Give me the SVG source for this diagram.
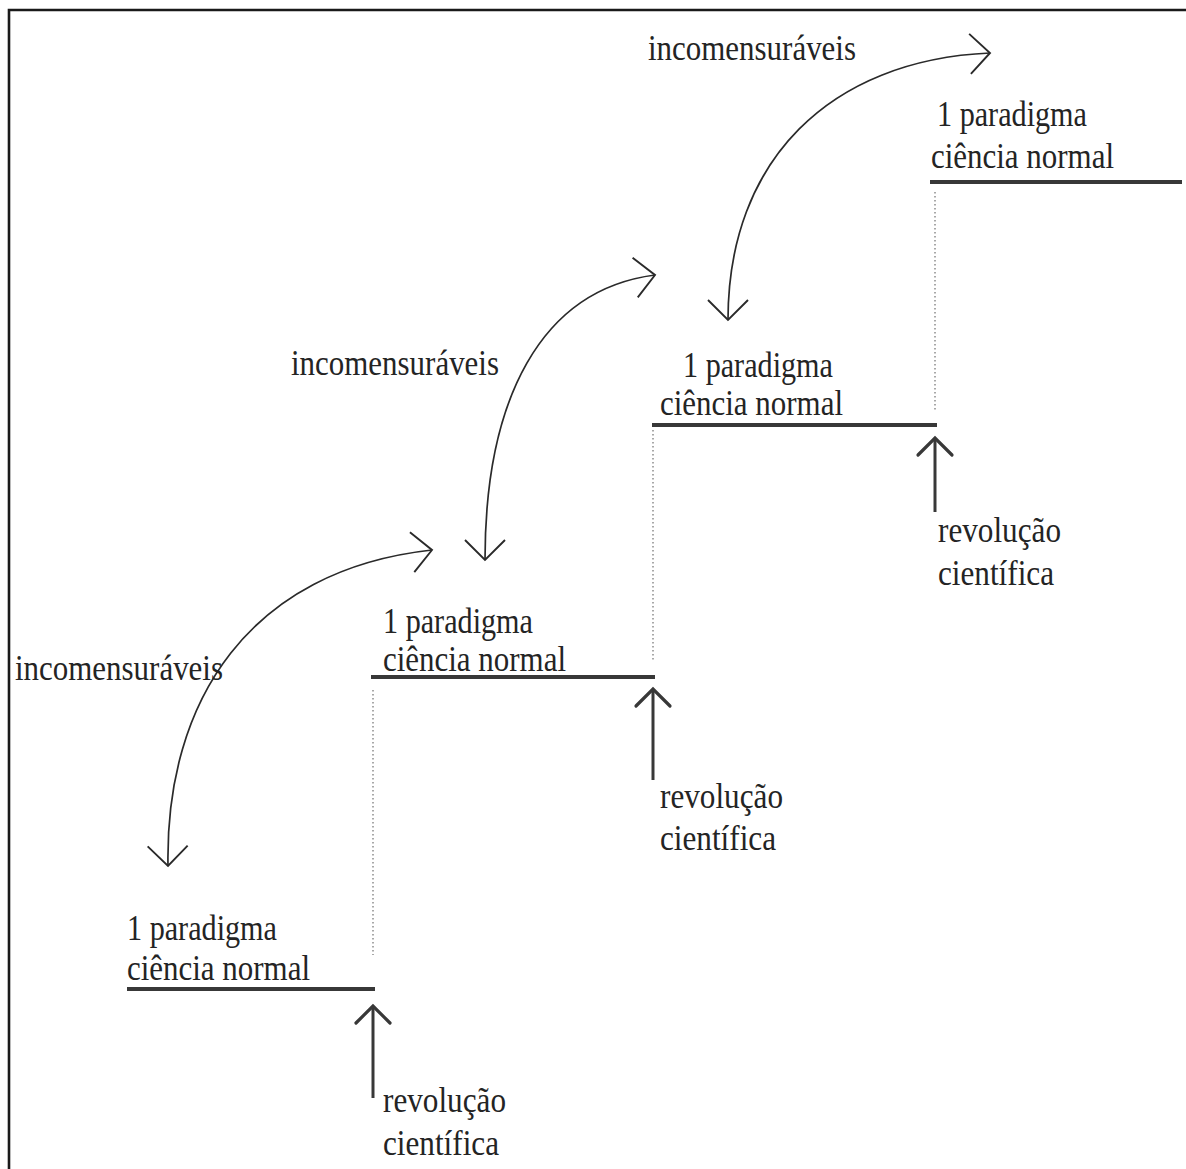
<svg xmlns="http://www.w3.org/2000/svg" width="1186" height="1169" viewBox="0 0 1186 1169">
  <style>
    .t { font-family: "Liberation Serif", "Times New Roman", serif; font-size: 36px; fill: #242424; }
    .step { stroke: #383838; stroke-width: 4; fill: none; }
    .dot { stroke: #7a7a7a; stroke-width: 1.3; stroke-dasharray: 1.5 2.5; fill: none; }
    .rev { stroke: #383838; stroke-width: 3; fill: none; }
    .curve { stroke: #2a2a2a; stroke-width: 1.7; fill: none; }
  </style>
  <defs>
    <marker id="chev" viewBox="-24 -24 28 48" markerWidth="28" markerHeight="48" refX="0" refY="0" orient="auto-start-reverse" markerUnits="userSpaceOnUse">
      <path d="M-20,-20 L0,0 L-20,20" fill="none" stroke="#2a2a2a" stroke-width="1.9"/>
    </marker>
    <marker id="up" viewBox="-22 -20 26 40" markerWidth="26" markerHeight="40" refX="0" refY="0" orient="auto" markerUnits="userSpaceOnUse">
      <path d="M-17,-17 L0,0 L-17,17" fill="none" stroke="#383838" stroke-width="3.2" stroke-linecap="round"/>
    </marker>
  </defs>
  <rect x="0" y="0" width="1186" height="1169" fill="#ffffff"/>
  <path d="M9,1169 L9,10 L1186,10" fill="none" stroke="#1a1a1a" stroke-width="2.6"/>

  <g id="connectors">
    <path class="dot" d="M935,192 L935,410"/>
    <path class="dot" d="M653,430 L653,660"/>
    <path class="dot" d="M373,690 L373,955"/>
    <path class="curve" marker-start="url(#chev)" marker-end="url(#chev)" d="M168,866 C165,700 250,570 432,550"/>
    <path class="curve" marker-start="url(#chev)" marker-end="url(#chev)" d="M485,560 C485,400 540,290 655,275"/>
    <path class="curve" marker-start="url(#chev)" marker-end="url(#chev)" d="M728,320 C728,160 830,60 990,53"/>
    <path class="rev" marker-end="url(#up)" d="M935,512 L935,438"/>
    <path class="rev" marker-end="url(#up)" d="M653,780 L653,689"/>
    <path class="rev" marker-end="url(#up)" d="M373,1098 L373,1006"/>
  </g>

  <g id="paradigma4">
    <path class="step" d="M930,182 L1182,182"/>
    <text class="t" x="937" y="126" textLength="150" lengthAdjust="spacingAndGlyphs">1 paradigma</text>
    <text class="t" x="931" y="168" textLength="183" lengthAdjust="spacingAndGlyphs">ciência normal</text>
  </g>
  <g id="paradigma3">
    <path class="step" d="M652,425 L937,425"/>
    <text class="t" x="683" y="377" textLength="150" lengthAdjust="spacingAndGlyphs">1 paradigma</text>
    <text class="t" x="660" y="415" textLength="183" lengthAdjust="spacingAndGlyphs">ciência normal</text>
  </g>
  <g id="paradigma2">
    <path class="step" d="M371,677 L655,677"/>
    <text class="t" x="383" y="633" textLength="150" lengthAdjust="spacingAndGlyphs">1 paradigma</text>
    <text class="t" x="383" y="671" textLength="183" lengthAdjust="spacingAndGlyphs">ciência normal</text>
  </g>
  <g id="paradigma1">
    <path class="step" d="M127,989 L375,989"/>
    <text class="t" x="127" y="940" textLength="150" lengthAdjust="spacingAndGlyphs">1 paradigma</text>
    <text class="t" x="127" y="980" textLength="183" lengthAdjust="spacingAndGlyphs">ciência normal</text>
  </g>

  <g id="revolucao3">
    <text class="t" x="938" y="542" textLength="123" lengthAdjust="spacingAndGlyphs">revolução</text>
    <text class="t" x="938" y="585" textLength="116" lengthAdjust="spacingAndGlyphs">científica</text>
  </g>
  <g id="revolucao2">
    <text class="t" x="660" y="808" textLength="123" lengthAdjust="spacingAndGlyphs">revolução</text>
    <text class="t" x="660" y="850" textLength="116" lengthAdjust="spacingAndGlyphs">científica</text>
  </g>
  <g id="revolucao1">
    <text class="t" x="383" y="1112" textLength="123" lengthAdjust="spacingAndGlyphs">revolução</text>
    <text class="t" x="383" y="1155" textLength="116" lengthAdjust="spacingAndGlyphs">científica</text>
  </g>

  <g id="incomensuraveis3">
    <text class="t" x="648" y="60" textLength="208" lengthAdjust="spacingAndGlyphs">incomensuráveis</text>
  </g>
  <g id="incomensuraveis2">
    <text class="t" x="291" y="375" textLength="208" lengthAdjust="spacingAndGlyphs">incomensuráveis</text>
  </g>
  <g id="incomensuraveis1">
    <text class="t" x="15" y="680" textLength="208" lengthAdjust="spacingAndGlyphs">incomensuráveis</text>
  </g>
</svg>
